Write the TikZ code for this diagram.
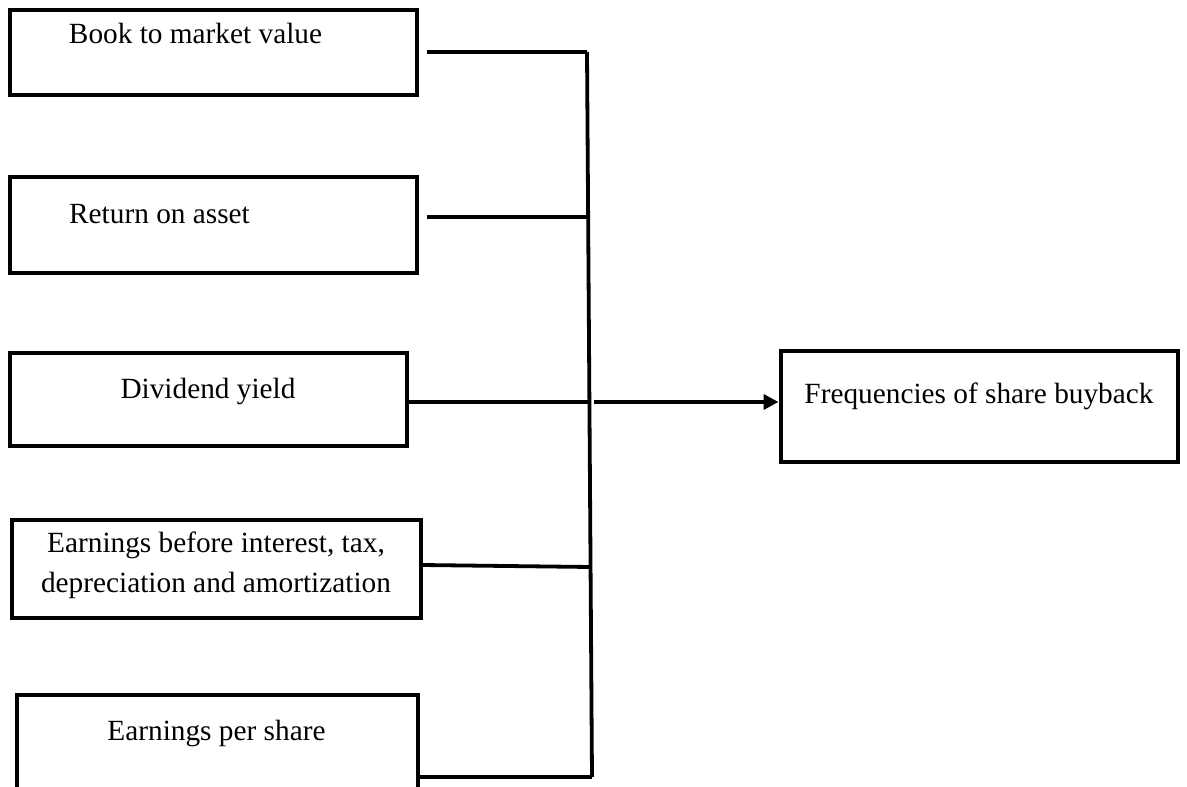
\documentclass[tikz,border=0pt]{standalone}
\usepackage{fontspec}
\setmainfont{Liberation Serif}
\usetikzlibrary{arrows.meta}
\begin{document}
\begin{tikzpicture}[x=1pt,y=-1pt,
  boxnode/.style={draw=black,line width=4pt,rectangle,inner sep=0pt},
  lbl/.style={inner sep=0pt,anchor=base,font=\fontsize{29.3}{40}\selectfont},
  conn/.style={draw=black,line width=3.8pt},
  arr/.style={conn,-{Triangle[length=15pt,width=15pt]}}]
\useasboundingbox[fill=white] (0,0) rectangle (1187,787);
% boxes
\node[boxnode,minimum width=407pt,minimum height=85pt] (b1) at (213,52) {};
\node[boxnode,minimum width=407pt,minimum height=96pt] (b2) at (213,224.5) {};
\node[boxnode,minimum width=397pt,minimum height=93pt] (b3) at (208,399) {};
\node[boxnode,minimum width=409pt,minimum height=98pt] (b4) at (216,568.5) {};
\node[boxnode,minimum width=401pt,minimum height=125pt] (b5) at (217,757) {};
\node[boxnode,minimum width=397pt,minimum height=111pt] (r) at (979,406) {};
% labels
\node[lbl] (t1) at (195.5,43) {Book to market value};
\node[lbl] (t2) at (159.5,223) {Return on asset};
\node[lbl] (t3) at (208,398) {Dividend yield};
\node[lbl] (t4a) at (216,552) {Earnings before interest, tax,};
\node[lbl] (t4b) at (216,592) {depreciation and amortization};
\node[lbl] (t5) at (216.5,740) {Earnings per share};
\node[lbl] (tr) at (979,403) {Frequencies of share buyback};
% bus
\coordinate (bustop) at (587,52);
\coordinate (bus2) at (588.1,217);
\coordinate (bus3) at (589.4,402);
\coordinate (bus4) at (590.6,567);
\coordinate (busbot) at (592,777);
\draw[conn] ([xshift=8pt]b1.east) -- (bustop);
\draw[conn] (bustop) -- (busbot);
\draw[conn] ([xshift=8pt,yshift=7.5pt]b2.east) -- (bus2);
\draw[conn] ([yshift=-3pt]b3.east) -- (bus3);
\draw[conn] ([yshift=3.5pt]b4.east) -- (bus4);
\draw[conn] ([yshift=-20pt]b5.east) -- (busbot);
\coordinate (arrstart) at (594,402);
\draw[arr] (arrstart) -- ([yshift=4pt]r.west);
\end{tikzpicture}
\end{document}
